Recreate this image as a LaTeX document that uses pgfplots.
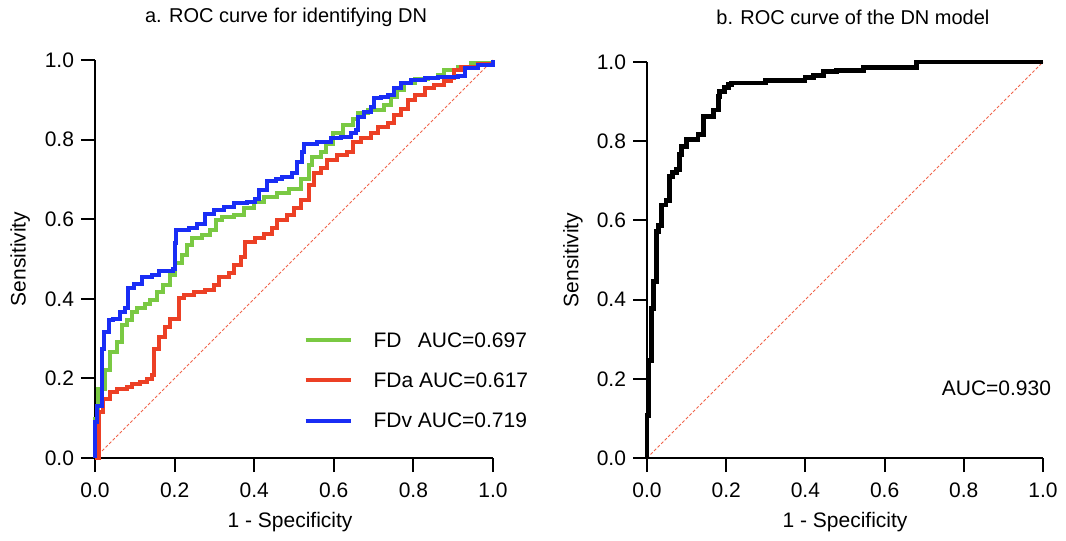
\documentclass[border=0pt]{standalone}
\usepackage{fontspec}
\setmainfont{Liberation Sans}
\usepackage{pgfplots}
\pgfplotsset{compat=1.18}

\definecolor{fdgreen}{RGB}{122,201,67}
\definecolor{fdred}{RGB}{236,64,37}
\definecolor{fdblue}{RGB}{25,45,245}
\definecolor{diagred}{RGB}{240,100,75}

\pgfplotsset{
  rocax/.style={
    scale only axis,
    xmin=0, xmax=1, ymin=0, ymax=1,
    clip=false,
    axis x line=bottom, axis y line=left,
    axis line style={-, line width=1bp, black},
    xtick={0,0.2,0.4,0.6,0.8,1}, ytick={0,0.2,0.4,0.6,0.8,1},
    /pgf/number format/.cd, fixed, fixed zerofill, precision=1, assume math mode=true, /pgfplots/.cd,
    tick align=outside, major tick length=7bp,
    tick style={line width=1bp, black},
    ticklabel style={font=\fontsize{10.5bp}{12bp}\selectfont},
    xticklabel style={yshift=-2bp},
    label style={font=\fontsize{10.5bp}{12bp}\selectfont},
    every axis title shift=0pt,
    title style={font=\fontsize{10bp}{12bp}\selectfont, anchor=center},
    xlabel style={at={(axis description cs:0.49,-0.16)}, anchor=center},
    ylabel style={at={(axis description cs:-0.188,0.5)}, anchor=center, rotate=0},
    xlabel={1 - Specificity}, ylabel={Sensitivity},
  },
  diag/.style={diagred, line width=0.5bp, dash pattern=on 1.5bp off 1bp, forget plot},
}

\begin{document}
\begin{tikzpicture}
\useasboundingbox (0,0) rectangle (533bp,270.5bp);

% a. three markers
\begin{axis}[rocax,
  at={(47.5bp,41.5bp)}, anchor=south west,
  width=199bp, height=199bp,
  title={a. ROC curve for identifying DN},
  title style={at={(axis description cs:0.48,1.108)}, anchor=center},
  legend cell align=left,
  legend image code/.code={\draw[#1, overlay] (0bp,-0.2bp) -- (22.5bp,-0.2bp); \path[draw=none] (0bp,0bp) -- (34bp,0bp);},
  legend style={draw=none, fill=none, at={(axis cs:0.528,0.317)}, anchor=north west,
    inner sep=0pt, row sep=12.5bp, column sep=0bp,
    font=\fontsize{10.5bp}{12bp}\selectfont,
    nodes={inner sep=0pt, outer sep=0pt, text height=7.6bp, text depth=0pt}},
]
\addplot[diag] coordinates {(0,0) (1,1)};

\addplot[fdgreen, line width=2bp, const plot, forget plot] coordinates {
(0,0) (0,0.099) (0.008,0.174) (0.025,0.220) (0.038,0.267) (0.055,0.292) (0.067,0.334)
(0.080,0.346) (0.092,0.367) (0.105,0.376) (0.126,0.388) (0.139,0.397) (0.155,0.417)
(0.172,0.434) (0.189,0.459) (0.202,0.489) (0.218,0.510) (0.231,0.535) (0.244,0.552)
(0.269,0.560) (0.290,0.573) (0.303,0.598) (0.319,0.606) (0.349,0.610) (0.374,0.627)
(0.399,0.644) (0.424,0.656) (0.458,0.665) (0.487,0.677) (0.517,0.702) (0.538,0.736)
(0.546,0.757) (0.567,0.769) (0.580,0.790) (0.597,0.816) (0.622,0.837) (0.647,0.853)
(0.660,0.866) (0.685,0.874) (0.727,0.887) (0.744,0.908) (0.760,0.925) (0.777,0.941)
(0.803,0.952) (0.836,0.954) (0.861,0.962) (0.878,0.975) (0.912,0.983) (0.945,0.992) (1,1)};

\addplot[fdred, line width=2bp, const plot, forget plot] coordinates {
(0,0) (0.011,0.116) (0.021,0.149) (0.038,0.166) (0.055,0.174) (0.080,0.179) (0.092,0.187)
(0.113,0.191) (0.130,0.199) (0.143,0.208) (0.147,0.275) (0.160,0.304) (0.176,0.329)
(0.189,0.350) (0.210,0.401) (0.223,0.409) (0.248,0.416) (0.277,0.422) (0.298,0.434)
(0.311,0.455) (0.336,0.464) (0.349,0.484) (0.366,0.505) (0.378,0.543) (0.403,0.553)
(0.424,0.564) (0.445,0.577) (0.458,0.598) (0.483,0.610) (0.500,0.627) (0.517,0.648)
(0.538,0.686) (0.550,0.715) (0.567,0.728) (0.584,0.749) (0.609,0.761) (0.634,0.769)
(0.647,0.795) (0.668,0.803) (0.693,0.816) (0.710,0.832) (0.735,0.841) (0.752,0.862)
(0.769,0.878) (0.786,0.899) (0.803,0.912) (0.828,0.929) (0.853,0.937) (0.878,0.946)
(0.895,0.956) (0.903,0.975) (0.920,0.983) (0.962,0.990) (1,1)};

\addplot[fdblue, line width=2bp, const plot, forget plot] coordinates {
(0,0) (0,0.090) (0.006,0.130) (0.017,0.275) (0.023,0.317) (0.034,0.346) (0.046,0.350)
(0.063,0.367) (0.076,0.376) (0.084,0.426) (0.097,0.438) (0.118,0.455) (0.143,0.459)
(0.160,0.469) (0.197,0.476) (0.202,0.539) (0.204,0.573) (0.235,0.577) (0.256,0.589)
(0.277,0.614) (0.298,0.623) (0.324,0.631) (0.349,0.640) (0.382,0.644) (0.403,0.652)
(0.412,0.673) (0.433,0.696) (0.454,0.702) (0.471,0.707) (0.496,0.715) (0.508,0.744)
(0.521,0.770) (0.525,0.790) (0.559,0.793) (0.592,0.803) (0.618,0.807) (0.643,0.816)
(0.655,0.824) (0.660,0.857) (0.676,0.869) (0.693,0.883) (0.702,0.904) (0.718,0.908)
(0.735,0.912) (0.752,0.929) (0.769,0.941) (0.794,0.950) (0.828,0.954) (0.861,0.958)
(0.912,0.960) (0.929,0.979) (0.962,0.987) (1,1)};

\addlegendimage{fdgreen, line width=2bp}
\addlegendentry{FD\hspace{0.5em} AUC=0.697}
\addlegendimage{fdred, line width=2bp}
\addlegendentry{FDa AUC=0.617}
\addlegendimage{fdblue, line width=2bp}
\addlegendentry{FDv AUC=0.719}
\end{axis}

% b. combined model
\begin{axis}[rocax,
  at={(323.5bp,41.5bp)}, anchor=south west,
  width=198bp, height=198bp,
  title={b. ROC curve of the DN model},
  title style={at={(axis description cs:0.52,1.113)}, anchor=center},
  xlabel style={at={(axis description cs:0.5,-0.162)}},
  ylabel style={at={(axis description cs:-0.187,0.5)}},
]
\addplot[diag] coordinates {(0,0) (1,1)};
\addplot[black, line width=2.4bp, const plot] coordinates {
(0,0) (0,0.108) (0.005,0.247) (0.011,0.378) (0.017,0.445) (0.024,0.572) (0.030,0.588)
(0.036,0.639) (0.048,0.650) (0.057,0.711) (0.065,0.720) (0.074,0.728) (0.083,0.766)
(0.087,0.787) (0.100,0.804) (0.129,0.816) (0.142,0.863) (0.167,0.879) (0.180,0.913)
(0.184,0.926) (0.195,0.935) (0.205,0.943) (0.213,0.947) (0.300,0.953) (0.399,0.960)
(0.420,0.966) (0.445,0.975) (0.479,0.979) (0.546,0.986) (0.681,1.000) (1,1)};
\node[anchor=east, font=\fontsize{10.5bp}{12bp}\selectfont] at (axis cs:1.038,0.177) {AUC=0.930};
\end{axis}
\end{tikzpicture}
\end{document}
